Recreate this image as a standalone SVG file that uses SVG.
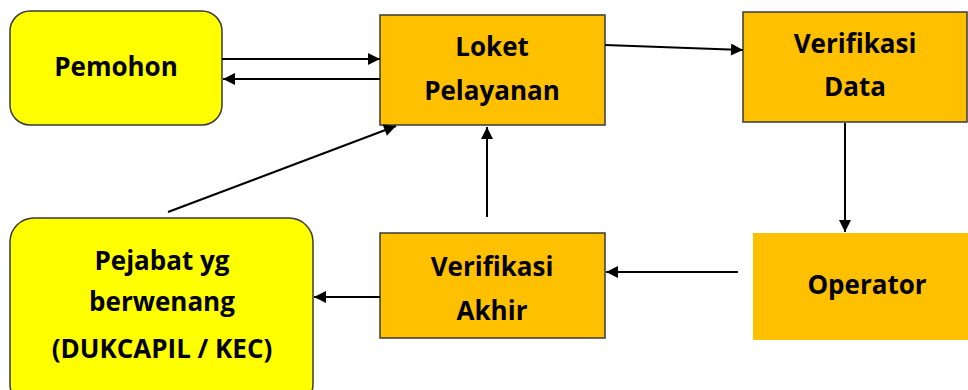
<svg xmlns="http://www.w3.org/2000/svg" width="968" height="390" viewBox="0 0 968 390">
<style>
.t{font-family:"Open Sans","Liberation Sans",sans-serif;font-weight:bold;font-size:26px;fill:#000;text-anchor:middle}
.y{fill:#FFFF00;stroke:#3a3a3a;stroke-width:1.5}
.o{fill:#FFC000;stroke:#3a3a3a;stroke-width:1.5}
.c{stroke:#000;stroke-width:2;fill:none;marker-end:url(#ah)}
</style>
<defs>
<marker id="ah" viewBox="0 0 10 10" refX="10" refY="5" markerWidth="13" markerHeight="12" markerUnits="userSpaceOnUse" orient="auto">
<path d="M0,0 L10,5 L0,10 z" fill="#000"/>
</marker>
</defs>
<rect width="968" height="390" fill="#fff"/>
<g id="pemohon"><rect class="y" x="10" y="11" width="212" height="114" rx="20"/><text class="t" x="116" y="76">Pemohon</text></g>
<g id="loket"><rect class="o" x="380" y="15" width="225" height="110"/><text class="t" x="492" y="56">Loket</text><text class="t" x="492" y="100">Pelayanan</text></g>
<g id="verdata"><rect class="o" x="743" y="12" width="224" height="110"/><text class="t" x="855" y="53">Verifikasi</text><text class="t" x="855" y="96">Data</text></g>
<g id="operator"><rect fill="#FFC000" x="753" y="233" width="215" height="107"/><text class="t" x="867" y="294">Operator</text></g>
<g id="verakhir"><rect class="o" x="380" y="233" width="225" height="105"/><text class="t" x="492" y="276">Verifikasi</text><text class="t" x="492" y="320">Akhir</text></g>
<g id="pejabat"><rect class="y" x="10" y="218" width="303" height="190" rx="24"/><text class="t" x="162" y="270">Pejabat yg</text><text class="t" x="162" y="311">berwenang</text><text class="t" x="162" y="358">(DUKCAPIL / KEC)</text></g>
<g id="connectors">
<path class="c" d="M222,59 L380,59"/>
<path class="c" d="M380,79 L223,79"/>
<path class="c" d="M605,45 L743,50"/>
<path class="c" d="M845,123 L845,232"/>
<path class="c" d="M738,272 L606,272"/>
<path class="c" d="M487,217 L487,127"/>
<path class="c" d="M380,297 L314,297"/>
<path class="c" d="M168,212 L396,126"/>
</g>
</svg>
